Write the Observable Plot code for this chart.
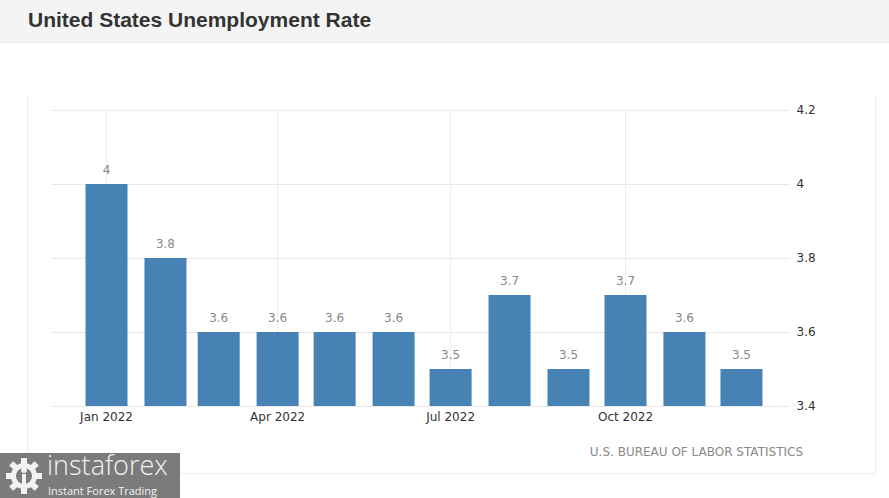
<!DOCTYPE html>
<html>
<head>
<meta charset="utf-8">
<script src="https://cdn.jsdelivr.net/npm/d3@7"></script>
<script src="https://cdn.jsdelivr.net/npm/@observablehq/plot@0.6"></script>
<style>
  html, body { margin: 0; padding: 0; background: #fff; }
  body { width: 889px; height: 498px; position: relative; overflow: hidden; }
  #title { height: 42px; background: #f4f4f4; box-shadow: 0 1px 1px #ececec; font-family: "Liberation Sans", Arial, sans-serif; font-weight: bold; font-size: 21px; color: #333; line-height: 40px; padding-left: 28px; box-sizing: border-box; }
  #wrap { position: relative; width: 889px; height: 456px; }
  #frame { position: absolute; left: 27px; top: 54px; width: 847px; height: 377px; border-left: 1px solid #ececec; border-right: 1px solid #ececec; border-bottom: 1px solid #ececec; }
  #chart { position: absolute; left: 0; top: 0; }
  #source { position: absolute; right: 86px; top: 403px; font-family: "DejaVu Sans", sans-serif; font-size: 12px; color: #888; }
  #logo { position: absolute; left: 0; top: 411px; width: 180px; height: 45px; background: #7b7b7b; color: #f2f2f2; }
  #logo .big { position: absolute; left: 47px; top: -3px; height: 29px; line-height: 29px; font-family: "Open Sans", Roboto, sans-serif; font-weight: 300; font-size: 27px; letter-spacing: 0px; }
  #logo .small { position: absolute; left: 48px; top: 32px; height: 12px; line-height: 12px; font-family: "Open Sans", Roboto, sans-serif; font-size: 11px; }
  #logo svg { position: absolute; left: 4px; top: 4px; }
</style>
</head>
<body>
<div id="title">United States Unemployment Rate</div>
<div id="wrap">
  <div id="frame"></div>
  <div id="chart"></div>
  <div id="source">U.S. BUREAU OF LABOR STATISTICS</div>
  <div id="logo">
    <svg width="40" height="38" viewBox="0 0 40 38">
      <g fill="#f2f2f2">
        <circle cx="20" cy="19" r="13"/>
        <rect x="17" y="1" width="6" height="7"/>
        <rect x="17" y="30" width="6" height="7"/>
        <rect x="2" y="16" width="7" height="6"/>
        <rect x="31" y="16" width="7" height="6"/>
        <rect x="17" y="1" width="6" height="7" transform="rotate(45 20 19)"/>
        <rect x="17" y="1" width="6" height="7" transform="rotate(-45 20 19)"/>
        <rect x="17" y="30" width="6" height="7" transform="rotate(45 20 19)"/>
        <rect x="17" y="30" width="6" height="7" transform="rotate(-45 20 19)"/>
      </g>
      <circle cx="20" cy="19" r="8" fill="#7b7b7b"/>
      <circle cx="20" cy="13" r="3" fill="#f2f2f2"/>
      <rect x="18" y="17" width="4" height="16" fill="#f2f2f2"/>
    </svg>
    <div class="big">instaforex</div>
    <div class="small">Instant Forex Trading</div>
  </div>
</div>
<script>
const months = ["2022-01-01","2022-02-01","2022-03-01","2022-04-01","2022-05-01","2022-06-01",
                "2022-07-01","2022-08-01","2022-09-01","2022-10-01","2022-11-01","2022-12-01"];
const rates = [4, 3.8, 3.6, 3.6, 3.6, 3.6, 3.5, 3.7, 3.5, 3.7, 3.6, 3.5];
const yTicks = [3.4, 3.6, 3.8, 4, 4.2];
const xTickMonths = ["2022-01-01","2022-04-01","2022-07-01","2022-10-01"];

const data = months.map((m, i) => ({date: new Date(m + "T00:00:00Z"), rate: rates[i]}));
const xTicks = xTickMonths.map(m => new Date(m + "T00:00:00Z"));
const baseline = yTicks[0];

const chart = Plot.plot({
  width: 889,
  height: 456,
  marginLeft: 52,
  marginRight: 99,
  marginTop: 68,
  marginBottom: 92,
  style: {fontFamily: "DejaVu Sans, sans-serif", fontSize: "12px", color: "#333", background: "transparent"},
  x: {type: "utc", domain: [new Date("2021-12-03T14:00:00Z"), new Date("2022-12-26T19:00:00Z")]},
  y: {domain: [yTicks[0], yTicks[yTicks.length - 1]]},
  marks: [
    Plot.gridY(yTicks, {stroke: "#e8e8e8", strokeOpacity: 1}),
    Plot.gridX(xTicks, {stroke: "#ececec", strokeOpacity: 1}),
    Plot.ruleX(data, {x: "date", y1: baseline, y2: "rate", stroke: "#4682b4", strokeWidth: 42}),
    Plot.text(data, {x: "date", y: "rate", text: d => String(d.rate), dy: -14, fill: "#888", fontSize: 12}),
    Plot.axisX(xTicks, {tickSize: 0, tickPadding: 6, tickFormat: d3.utcFormat("%b %Y"), fill: "#333", label: null}),
    Plot.axisY(yTicks, {anchor: "right", tickSize: 0, tickPadding: 6, tickFormat: d => String(d), fill: "#333", label: null})
  ]
});
document.getElementById("chart").appendChild(chart);
</script>
</body>
</html>
